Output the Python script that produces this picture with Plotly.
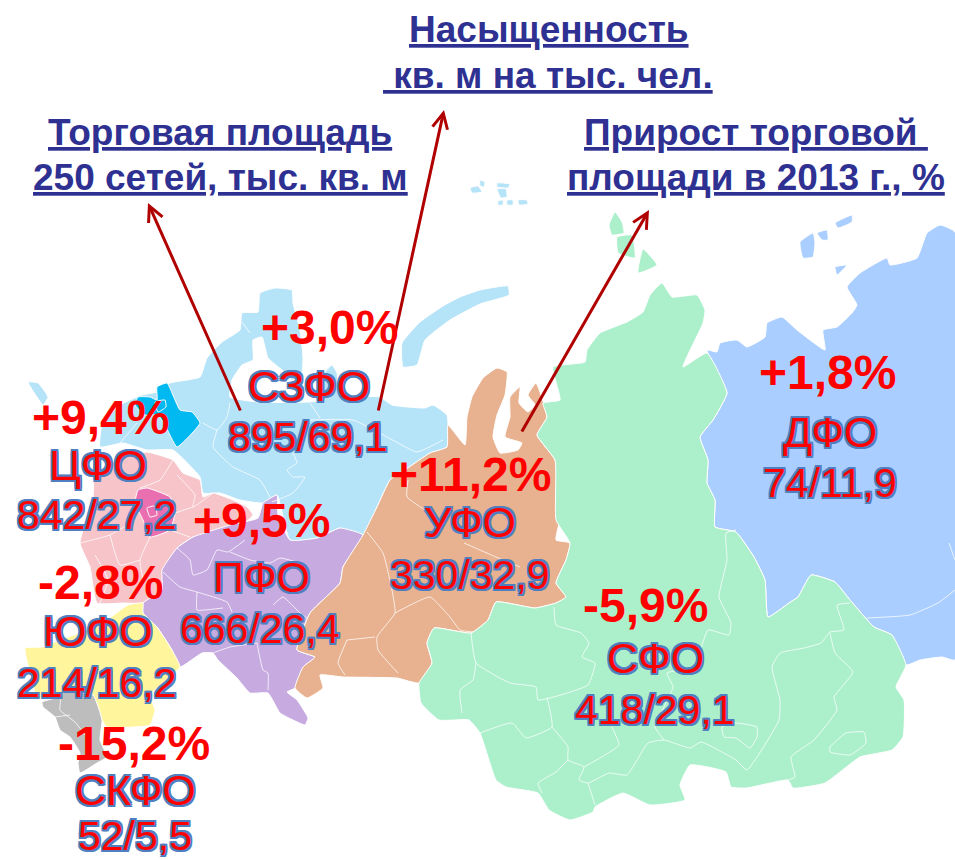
import plotly.graph_objects as go

# ---------- values ----------
districts = ["СЗФО", "ЦФО", "ПФО", "ЮФО", "СКФО", "УФО", "СФО", "ДФО"]
growth = ["+3,0%", "+9,4%", "+9,5%", "-2,8%", "-15,2%", "+11,2%", "-5,9%", "+1,8%"]
area_density = ["895/69,1", "842/27,2", "666/26,4", "214/16,2", "52/5,5", "330/32,9", "418/29,1", "74/11,9"]

growth_xy = [(329, 327), (100, 417), (261, 520), (100, 582), (134, 743), (470, 474), (645, 605), (827, 372)]
name_xy = [(309, 386), (98, 465), (261, 577), (98, 631), (135, 790), (470, 522), (655, 658), (830, 432)]
value_xy = [(308, 437), (97, 515), (260, 629), (97, 683), (135, 836), (470, 575), (655, 710), (830, 483)]

titles = [
    ("Насыщенность", 549, 29), ("\u00a0кв. м на тыс. чел.", 548, 75),
    ("Торговая площадь", 220, 132), ("250 сетей, тыс. кв. м", 220, 177),
    ("Прирост торговой\u00a0", 756, 132), ("площади в 2013 г., %", 756, 177),
]
arrows = [((241, 412), (148, 203)), ((378, 412), (444, 110)), ((521, 433), (649, 210))]

# ---------- map outlines ----------
C_SZ, C_CF, C_PF, C_YU, C_SK, C_UR, C_SF, C_DV = (
    "#b5e3f8", "#f6c4c9", "#c7abe0", "#fff59d", "#bdbdbd", "#e8b18f", "#abf0cb", "#aaceff")

szfo = [(100,447),(102,425),(120,405),(142,395),(157,392),(170,383),(200,377),(207,358),(222,342),(240,330),
        (242,313),(258,312),(260,293),(275,288),(292,290),(293,303),(300,330),(303,357),(302,372),(292,380),
        (282,370),(268,358),(262,337),(253,340),(253,360),(242,365),(232,380),(230,397),(258,402),(322,400),
        (325,372),(332,365),(337,373),(340,395),(380,397),(392,405),(425,408),(433,405),(447,415),(448,425),
        (447,447),(430,453),(405,470),(390,480),(377,507),(363,535),(340,528),(317,538),(290,540),(277,495),
        (263,503),(240,500),(220,493),(203,493),(200,477),(173,450),(147,450),(123,443)]
szfo_islands = [
    [(28,382),(38,383),(48,397),(43,405),(37,397)],
    [(402,343),(420,322),(443,306),(460,297),(480,290),(508,286),(509,295),(480,304),(450,320),(425,340),(417,365),(403,367)],
    [(480,180),(485,182),(484,187),(480,186)],
    [(470,188),(478,186),(482,192),(472,193)],
    [(497,183),(510,184),(508,188),(497,187)],
    [(497,189),(506,189),(507,197),(501,198)],
    [(498,201),(503,200),(503,205),(498,205)],
    [(507,200),(513,200),(513,205),(507,205)],
    [(518,200),(527,200),(528,204),(519,205)],
]
leningrad = [(157,387),(167,383),(180,410),(192,412),(200,423),(177,447),(165,425),(158,415),(145,415),(135,405),(138,397),(150,397),(157,400)]
leningrad_inner = [(155,402),(165,400),(166,407),(158,412)]
cfo = [(147,452),(173,460),(183,473),(200,480),(203,497),(213,493),(233,500),(247,507),(253,515),(235,530),
       (193,537),(177,548),(165,567),(162,590),(143,603),(123,603),(97,603),(90,567),(80,543),(93,497),(95,473),(123,457)]
moscow = [(138,490),(147,488),(170,497),(175,513),(170,530),(150,537),(143,520),(135,503)]
moscow_inner = [(147,508),(155,506),(157,515),(150,517)]
pfo = [(177,548),(193,537),(230,525),(258,518),(263,503),(277,495),(278,515),(290,540),(317,538),(340,528),
       (363,535),(343,567),(340,583),(310,613),(297,650),(315,657),(303,667),(295,688),(287,692),(297,700),
       (308,718),(305,725),(293,720),(280,713),(268,693),(250,693),(237,678),(218,660),(213,653),(202,653),
       (180,667),(172,650),(157,627),(143,613),(143,603),(162,590),(162,570)]
yufo = [(143,603),(128,605),(100,625),(60,640),(42,647),(25,648),(28,665),(38,698),(93,697),(102,720),
        (107,727),(150,725),(155,710),(150,695),(180,667),(172,650),(157,627),(143,613)]
skfo = [(42,702),(55,698),(62,692),(93,695),(102,720),(100,740),(107,757),(97,763),(80,773),(78,763),
        (80,753),(70,737),(60,730),(55,717),(43,707)]
ufo = [(497,368),(507,372),(505,395),(497,415),(493,437),(500,453),(518,450),(522,443),(505,437),(510,417),(510,397),(520,387),
       (519,403),(528,412),(535,405),(528,395),(536,383),(541,395),(547,417),(537,435),(555,460),(560,518),
       (556,540),(570,543),(566,560),(556,583),(566,597),(556,603),(535,608),(496,602),(488,620),(471,633),
       (434,628),(427,643),(432,663),(419,683),(397,678),(343,677),(320,675),(323,688),(307,698),(295,688),
       (303,667),(315,657),(297,650),(310,613),(340,583),(343,567),(363,535),(377,507),(390,480),(405,470),
       (430,453),(447,447),(448,425),(465,445),(467,417),(472,397),(483,378)]
sfo = [(543,403),(560,400),(553,367),(585,362),(587,350),(600,333),(627,322),(643,312),(650,295),(662,283),
       (672,297),(697,295),(705,310),(703,323),(683,367),(707,353),(727,393),(713,420),(700,437),(708,460),
       (707,483),(715,500),(715,527),(736,532),(754,557),(765,580),(768,617),(789,603),(798,597),(811,575),
       (835,582),(850,600),(874,627),(892,635),(906,665),(896,687),(904,700),(903,737),(892,750),(860,757),
       (825,783),(793,788),(788,780),(747,788),(731,787),(726,772),(690,765),(680,785),(685,800),(650,805),
       (623,793),(595,807),(593,812),(570,820),(549,810),(538,793),(506,787),(496,780),(480,733),(469,720),
       (439,720),(421,703),(419,683),(432,663),(427,643),(434,628),(471,633),(488,620),(496,602),(535,608),
       (556,603),(566,597),(556,583),(566,560),(570,543),(556,520),(555,460),(537,435),(547,417)]
sfo_islands = [
    [(615,212),(622,222),(624,233),(612,235),(609,225)],
    [(617,237),(632,235),(635,258),(618,253)],
    [(643,249),(657,265),(638,273)],
]
dfo = [(707,350),(717,352),(720,343),(737,340),(747,347),(765,337),(767,323),(782,317),(797,330),(825,350),
       (823,330),(837,327),(852,313),(857,305),(847,287),(860,273),(887,258),(890,265),(917,258),(927,233),
       (940,225),(955,232),(955,660),(942,657),(920,660),(906,665),(892,635),(874,627),(850,600),(835,582),
       (811,575),(798,597),(789,603),(768,617),(765,580),(754,557),(736,532),(715,527),(715,500),(707,483),
       (708,460),(700,437),(713,420),(727,393)]
dfo_islands = [
    [(852,215),(835,223),(838,228),(852,222)],
    [(800,242),(813,233),(815,242),(813,257),(803,258)],
    [(817,233),(827,230),(828,240),(822,240)],
    [(835,267),(847,265),(837,275)],
]
border_lines = [
    [(230,403),(227,417),(217,430),(203,423)],
    [(217,430),(213,447),(233,467),(260,480),(270,497)],
    [(310,420),(353,420),(387,437),(417,452),(443,440)],
    [(310,403),(320,418)],
    [(293,453),(297,463),(287,470),(293,477),(305,477),(293,493),(272,502)],
    [(242,322),(250,333)],
    [(137,423),(120,443)],
    [(173,460),(160,480),(140,488)],
    [(177,475),(195,495),(193,507),(213,493)],
    [(193,507),(175,513)],
    [(170,530),(190,537)],
    [(150,537),(140,560),(143,580)],
    [(80,543),(110,535),(135,520)],
    [(110,535),(120,565),(140,560)],
    [(95,555),(108,580),(100,603)],
    [(177,548),(190,560),(193,575),(207,570),(217,550),(228,552),(245,540)],
    [(230,552),(250,560),(270,563),(280,558),(300,563)],
    [(163,572),(180,587),(197,592),(227,602),(232,612)],
    [(197,592),(197,610),(205,610),(223,608)],
    [(273,605),(283,597),(300,613),(307,618)],
    [(257,643),(263,670),(268,673),(268,690)],
    [(213,653),(230,647),(257,643)],
    [(367,532),(383,553),(392,590),(395,613),(377,637),(378,650),(398,673)],
    [(395,613),(430,597),(450,617),(460,630),(473,632)],
    [(347,640),(338,663),(345,675)],
    [(347,640),(375,637)],
    [(408,480),(407,497),(430,513)],
    [(464,543),(496,557),(520,567)],
    [(62,692),(60,710),(75,722),(85,735)],
    [(55,717),(70,715)],
    [(471,633),(476,663),(510,683),(536,687),(538,700),(588,685),(595,663),(582,657),(589,643),(581,633),(556,625),(554,607)],
    [(476,663),(473,680),(460,690),(462,713)],
    [(480,733),(512,723),(526,738),(552,727),(547,697)],
    [(552,727),(568,747),(568,760),(584,767),(579,780),(588,783),(609,773),(627,775),(648,743),(664,740),(690,748),(701,742),(736,760),(747,770),(779,720),(780,700),(772,667),(780,653),(804,648),(821,643),(830,632),(844,630),(837,605),(850,603)],
    [(568,760),(556,772),(538,783),(542,793)],
    [(588,783),(595,805)],
    [(584,767),(619,745),(612,727),(609,717)],
    [(664,740),(655,727),(673,687),(667,673),(694,667),(708,630),(729,635),(731,623),(719,597),(727,560),(726,533),(736,530)],
    [(830,633),(835,653),(853,672),(834,697),(837,710),(814,740),(791,757),(795,777),(788,780)],
    [(830,747),(846,733),(864,732),(866,743),(850,755),(830,752),(830,747)],
    [(722,727),(736,723),(757,727),(757,737),(750,748),(736,738),(724,737),(722,727)],
    [(867,618),(910,615),(938,603),(955,590)],
    [(949,543),(955,560)],
]

regions = [
    (szfo, C_SZ), (cfo, C_CF), (pfo, C_PF), (yufo, C_YU), (skfo, C_SK),
    (dfo, C_DV), (ufo, C_UR), (sfo, C_SF),
    (leningrad, "#00b9f0"), (moscow, "#ea6fb0"),
]
regions += [(p, C_SZ) for p in szfo_islands]
regions += [(p, C_SF) for p in sfo_islands]
regions += [(p, C_DV) for p in dfo_islands]

fig = go.Figure()
for poly, colour in regions:
    xs, ys = zip(*(poly + poly[:1]))
    fig.add_trace(go.Scatter(x=xs, y=ys, mode="lines", fill="toself", fillcolor=colour,
                             line=dict(color="white", width=1, shape="spline", smoothing=0.4),
                             hoverinfo="skip", showlegend=False))
for path, colour in [(b, "rgba(255,255,255,0.75)") for b in border_lines] + [(moscow_inner + moscow_inner[:1], "#ffffff"), (leningrad_inner + leningrad_inner[:1], "#ffffff")]:
    xs, ys = zip(*path)
    fig.add_trace(go.Scatter(x=xs, y=ys, mode="lines", line=dict(color=colour, width=1, shape="spline", smoothing=0.4),
                             hoverinfo="skip", showlegend=False))

OUT = "#4f7fc0"
d = 1.8
outline = ", ".join(f"{a}px {b}px 0 {OUT}" for a, b in
                    [(d, 0), (-d, 0), (0, d), (0, -d), (d, d), (-d, d), (d, -d), (-d, -d)])

annotations = []
for text, x, y in titles:
    annotations.append(dict(x=x, y=y, text=f"<u>{text}</u>", showarrow=False, xanchor="center", yanchor="middle",
                            font=dict(family="Liberation Sans", size=37, color="#2e3192", weight="bold")))
for (tail, head) in arrows:
    annotations.append(dict(x=head[0], y=head[1], ax=tail[0], ay=tail[1], axref="x", ayref="y", xref="x", yref="y",
                            text="", showarrow=True, arrowhead=5, arrowsize=1, arrowwidth=3, arrowcolor="#b00000"))
for name, (x, y) in zip(districts, name_xy):
    annotations.append(dict(x=x, y=y, text=name, showarrow=False, xanchor="center", yanchor="middle",
                            font=dict(family="Liberation Sans", size=43, color="#ff0000", shadow=outline)))
for val, (x, y) in zip(area_density, value_xy):
    annotations.append(dict(x=x, y=y, text=val, showarrow=False, xanchor="center", yanchor="middle",
                            font=dict(family="Liberation Sans", size=41, color="#ff0000", shadow=outline)))
for g, (x, y) in zip(growth, growth_xy):
    annotations.append(dict(x=x, y=y, text=g, showarrow=False, xanchor="center", yanchor="middle",
                            font=dict(family="Liberation Sans", size=48, color="#ff0000", weight="bold")))

fig.update_layout(
    width=955, height=860, margin=dict(l=0, r=0, t=0, b=0), paper_bgcolor="white", plot_bgcolor="white",
    xaxis=dict(range=[0, 955], visible=False, fixedrange=True),
    yaxis=dict(range=[860, 0], visible=False, fixedrange=True),
    showlegend=False, annotations=annotations,
)
fig.write_html("out.html", post_script="document.body.style.margin='0';document.documentElement.style.overflow='hidden';",
               config=dict(displayModeBar=False))
